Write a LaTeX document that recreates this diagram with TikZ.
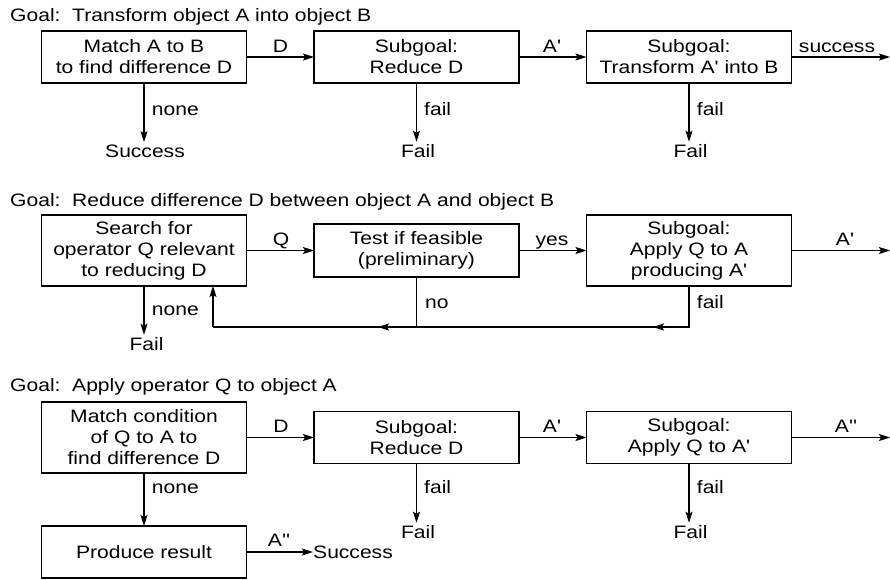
\documentclass[tikz,border=0pt]{standalone}
\usepackage{fontspec}
\newfontfamily\dfont[FakeStretch=1.17]{Liberation Sans}
\usetikzlibrary{arrows.meta,calc}
\begin{document}
\begin{tikzpicture}[x=1pt,y=-1pt,
  every node/.style={font=\dfont\fontsize{18}{21}\selectfont, text=black},
  box/.style={draw, line width=1.1pt, minimum width=205pt, inner sep=0pt, outer sep=0pt, align=center},
  conn/.style={line width=1.1pt, -{Stealth[length=11pt,width=7pt,inset=2pt]}},
  plain/.style={line width=1.1pt},
  lbl/.style={anchor=base, inner sep=0pt},
  lblw/.style={anchor=base west, inner sep=0pt},
  term/.style={anchor=base, inner sep=2pt}]
\useasboundingbox (0,0) rectangle (890,579);

% ---------- Row 1 ----------
\node[lblw] (g1) at (10,21.7) {Goal:\ \ Transform object A into object B};
\node[box, minimum height=52pt] (b1) at (144,57) {Match A to B\\to find difference D};
\node[box, minimum height=52pt] (b2) at (416.5,57) {Subgoal:\\Reduce D};
\node[box, minimum height=52pt] (b3) at (689,57) {Subgoal:\\Transform A' into B};
\coordinate (e1) at (890,57);
\draw[conn] (b1) -- (b2);
\draw[conn] (b2) -- (b3);
\draw[conn] (b3) -- (e1);
\node[lbl] (l1) at (280.5,52) {D};
\node[lbl] (l2) at (552,52) {A'};
\node[lbl] (l3) at (837,52) {success};
\node[term] (s1) at (145,157) {Success};
\node[term] (f2) at (418,157) {Fail};
\node[term] (f3) at (690.5,157) {Fail};
\draw[conn] (b1.south) -- (b1.south |- s1.north);
\draw[conn] (b2.south) -- (b2.south |- f2.north);
\draw[conn] (b3.south) -- (b3.south |- f3.north);
\node[lblw] (n1) at (151.7,115) {none};
\node[lblw] (n2) at (424,115) {fail};
\node[lblw] (n3) at (696.7,115) {fail};

% ---------- Row 2 ----------
\node[lblw] (g2) at (10,206) {Goal:\ \ Reduce difference D between object A and object B};
\node[box, minimum height=71pt] (b4) at (144,250.5) {Search for\\operator Q relevant\\to reducing D};
\node[box, minimum height=53pt] (b5) at (416.5,250.5) {Test if feasible\\(preliminary)};
\node[box, minimum height=71pt] (b6) at (689,250.5) {Subgoal:\\Apply Q to A\\producing A'};
\coordinate (e2) at (890,250.5);
\draw[conn] (b4) -- (b5);
\draw[conn] (b5) -- (b6);
\draw[conn] (b6) -- (e2);
\node[lbl] (l4) at (281,245) {Q};
\node[lbl] (l5) at (552,245) {yes};
\node[lbl] (l6) at (845,245) {A'};
\node[term] (f4) at (146.5,350) {Fail};
\draw[conn] (b4.south) -- (b4.south |- f4.north);
\node[lblw] (n4) at (151.7,315) {none};
\node[lblw] (n5) at (425,308) {no};
\node[lblw] (n6) at (696.7,308) {fail};
\coordinate (r6) at (689,327);
\coordinate (r5) at (416.5,327);
\coordinate (r4) at (213,327);
\coordinate (mA) at (653,327);
\coordinate (mB) at (378,327);
\draw[plain] (b6.south) -- (r6) -- (r5);
\draw[conn] (r6) -- (mA);
\draw[plain] (b5.south) -- (r5) -- (r4);
\draw[conn] (r5) -- (mB);
\draw[conn] (r4) -- (r4 |- b4.south);

% ---------- Row 3 ----------
\node[lblw] (g3) at (10,391.7) {Goal:\ \ Apply operator Q to object A};
\node[box, minimum height=71pt] (b7) at (144,437.5) {Match condition\\of Q to A to\\find difference D};
\node[box, minimum height=52pt] (b8) at (416.5,437.5) {Subgoal:\\Reduce D};
\node[box, minimum height=52pt] (b9) at (689,437.5) {Subgoal:\\Apply Q to A'};
\node[box, minimum height=52pt] (b10) at (144,552) {Produce result};
\coordinate (e3) at (890,437.5);
\draw[conn] (b7) -- (b8);
\draw[conn] (b8) -- (b9);
\draw[conn] (b9) -- (e3);
\draw[conn] (b7) -- (b10);
\node[lbl] (l7) at (281,432) {D};
\node[lbl] (l8) at (552,432) {A'};
\node[lbl] (l9) at (846,432) {A''};
\node[lblw] (n7) at (151.7,493) {none};
\node[lblw] (n8) at (424,493) {fail};
\node[lblw] (n9) at (696.7,493) {fail};
\node[term] (f8) at (418,538) {Fail};
\node[term] (f9) at (690.5,538) {Fail};
\draw[conn] (b8.south) -- (b8.south |- f8.north);
\draw[conn] (b9.south) -- (b9.south |- f9.north);
\node[anchor=west, inner sep=0pt] (s3) at (313,552) {Success};
\draw[conn] (b10.east) -- (s3.west);
\node[lbl] (l10) at (279,546) {A''};
\end{tikzpicture}
\end{document}
